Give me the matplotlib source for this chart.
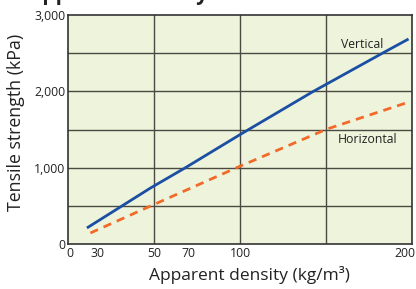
import matplotlib
matplotlib.use("Agg")
import matplotlib.pyplot as plt

# Data
vert_x = [11, 48, 68, 100.6, 142, 183, 198]
vert_y = [210, 734, 996, 1441, 1991, 2502, 2686]
horz_x = [13, 50.6, 99, 150.6, 196.5]
horz_y = [144, 524, 1009, 1506, 1847]
xtick_pos = [1, 17, 50, 70, 100, 196]
xtick_labels = ["0", "30", "50", "70", "100", "200"]
ytick_vals = [0, 1000, 2000, 3000]
ytick_labels = ["0", "1,000", "2,000", "3,000"]

plt.rcParams['font.family'] = ['Open Sans', 'DejaVu Sans']

fig = plt.figure(figsize=(4.16, 2.89), dpi=100)
ax = fig.add_axes([68/416, 45/289, 344/416, 229/289])
ax.set_facecolor('#EEF4DB')
ax.set_xlim(0, 200)
ax.set_ylim(0, 3000)

gridc = '#4a4a42'
for gx in [50, 100, 150]:
    ax.axvline(gx, color=gridc, lw=1.0, zorder=1)
for gy in [500, 1000, 1500, 2000, 2500]:
    ax.axhline(gy, color=gridc, lw=1.0, zorder=1)

ax.plot(vert_x, vert_y, color='#1B4FA3', lw=2.0, zorder=3, solid_capstyle='butt')
ax.plot(horz_x, horz_y, color='#F26A2A', lw=2.0, ls=(0, (3, 2.2)), zorder=3)

ax.text(171, 2620, "Vertical", fontsize=8.8, color='#222222', ha='center', va='center')
ax.text(174, 1370, "Horizontal", fontsize=8.8, color='#222222', ha='center', va='center')

for s in ax.spines.values():
    s.set_color('#333333')
    s.set_linewidth(1.2)

ax.set_xticks(xtick_pos)
ax.set_xticklabels(xtick_labels, fontsize=8.8, color='#222222')
ax.set_yticks(ytick_vals)
ax.set_yticklabels(ytick_labels, fontsize=8.8, color='#222222')
ax.tick_params(length=0, pad=2)

ax.set_xlabel("Apparent density (kg/m³)", fontsize=12.5, fontweight='medium',
              color='#222222')
ax.xaxis.set_label_coords(0.527, -0.095)
ax.set_ylabel("Tensile strength (kPa)", fontsize=12.8, fontweight='medium',
              color='#222222')
ax.yaxis.set_label_coords(-0.125, 0.53)

fig.text(28/416, 1.0, "Apparent density", fontsize=15, fontweight='bold',
         color='#222222', ha='left', va='baseline')

fig.savefig("out.png", dpi=100)
